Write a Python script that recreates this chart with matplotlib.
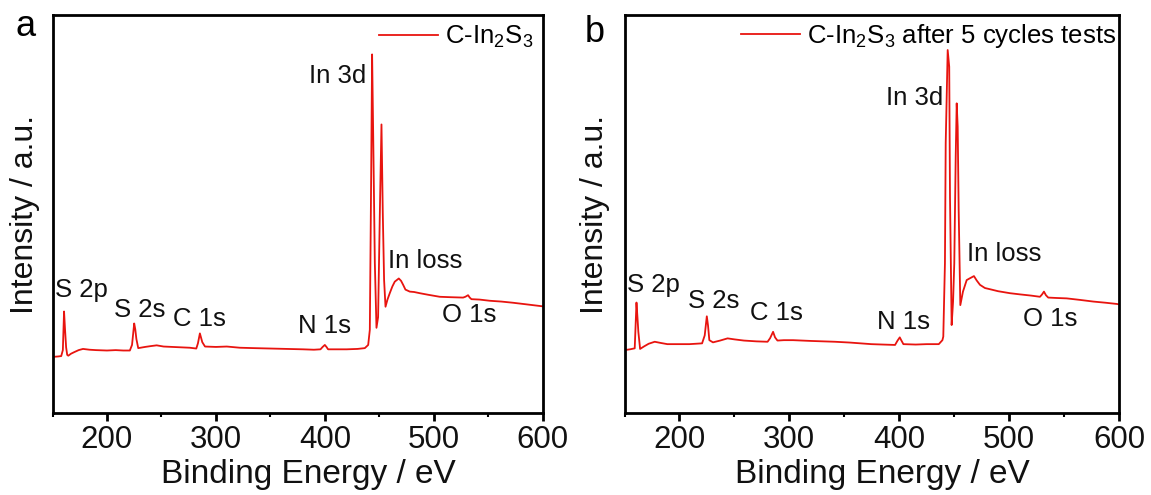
import numpy as np
import matplotlib
matplotlib.use("Agg")
import matplotlib.pyplot as plt
from matplotlib.ticker import MultipleLocator

plt.rcParams['font.family'] = ['Liberation Sans', 'DejaVu Sans']
plt.rcParams['mathtext.fontset'] = 'custom'
plt.rcParams['mathtext.rm'] = 'Liberation Sans'
plt.rcParams['mathtext.it'] = 'Liberation Sans'

# survey spectrum, panel a (binding energy eV, intensity a.u.)
ev_a = [150, 155, 158, 159.5, 160.6, 161.5, 162.5, 163.5, 164.5, 167, 170, 174, 178, 184,
        190, 200, 208, 215, 221, 223, 225, 226, 227, 228.7, 235, 240, 245.6, 252, 260,
        268, 276, 282, 283.5, 285.3, 287.5, 290, 300, 310, 322, 335, 350, 365, 380, 390,
        396, 398, 400, 401.5, 403, 412, 420, 430, 436.7, 439.8, 441.3, 442.5, 443.4,
        444.3, 445.9, 447.4, 448.9, 450.5, 452.0, 453.2, 454.4, 455.7, 457.5, 459.6, 462,
        464.2, 467.9, 470, 471.9, 474, 478, 482, 487.2, 495, 505.5, 515, 526.9, 529,
        531.5, 533, 534.6, 542, 551.4, 562, 572.8, 585, 600]
int_a = [14.1, 14.2, 14.3, 15.8, 25.5, 21.0, 16.5, 14.6, 14.4, 14.9, 15.3, 15.8, 16.1, 15.9,
         15.8, 15.7, 15.8, 15.7, 15.7, 17.1, 22.5, 21.0, 18.6, 16.3, 16.6, 16.8, 17.0, 16.7, 16.6,
         16.5, 16.4, 16.2, 17.5, 20.0, 17.8, 16.7, 16.6, 16.7, 16.4, 16.3, 16.2, 16.1, 16.0, 15.9,
         16.0, 16.6, 17.1, 16.6, 16.0, 16.0, 16.0, 16.1, 16.3, 17.1, 20.9, 58.5, 90.1,
         71.9, 37.7, 21.4, 24.1, 50.3, 72.5, 50.3, 33.4, 26.7, 28.5, 30.1, 31.8,
         33.0, 33.8, 33.2, 32.2, 31.0, 30.5, 30.4, 30.1, 29.7, 29.2, 29.1, 29.0, 29.2,
         29.6, 29.0, 28.6, 28.5, 28.2, 28.0, 27.7, 27.3, 26.8]

# survey spectrum, panel b (after 5 cycles)
ev_b = [150, 155, 159.3, 160.9, 161.8, 162.6, 164.2, 167.6, 172, 177.5, 183, 189, 200, 209,
        215, 220.6, 223, 224.9, 226, 227.2, 230.5, 237, 243.8, 250, 258.7, 270, 280.2, 282.5,
        285.2, 287, 289.2, 295, 303.4, 320, 341.5, 355, 374.6, 385, 396.2, 398.5, 400.5, 402,
        403.8, 415, 425, 436, 439.3, 440.1, 441.6, 442.3, 444.1, 445.5, 446.2, 447.7, 449,
        450.1, 451.4, 452.3, 453.2, 454.1, 455.6, 458, 461.4, 464, 468.0, 470.5, 473.5, 478,
        482.6, 490, 500.8, 510, 520, 528.1, 530, 531.7, 533.5, 535.6, 543, 552.4, 565, 576.6,
        588, 597.9, 600]
int_b = [15.8, 16.0, 16.25, 27.75, 24.0, 20.4, 16.1, 16.7, 17.4, 17.9, 17.6, 17.3, 17.3, 17.3,
         17.4, 17.5, 19.5, 24.3, 22.0, 18.3, 17.75, 18.2, 18.75, 18.5, 18.2, 18.0, 17.9, 18.8,
         20.4, 19.0, 18.2, 18.3, 18.3, 18.1, 17.9, 17.7, 17.3, 17.2, 17.1, 18.2, 19.0, 18.2,
         17.3, 17.2, 17.3, 17.3, 18.3, 19.2, 37.6, 67.8, 91.2, 87.0, 54.3, 22.1, 28.0,
         37.6, 64.4, 77.8, 71.9, 51.0, 27.1, 30.5, 33.4, 33.8, 34.4, 33.3, 32.2, 31.4,
         31.1, 30.6, 30.1, 29.8, 29.5, 29.2, 29.8, 30.5, 29.6, 29.0, 28.9, 28.8, 28.4, 28.0,
         27.7, 27.4, 27.3]

peak_names = ['S 2p', 'S 2s', 'C 1s', 'N 1s', 'In 3d', 'In loss', 'O 1s']
legend_a = r'C-In$_\mathregular{2}$S$_\mathregular{3}$'
legend_b = r'C-In$_\mathregular{2}$S$_\mathregular{3}$ after 5 cycles tests'

# label anchors (left/baseline) per panel
pos_a = [(152.3, 29.1), (206.4, 24.2), (261, 21.9), (375.5, 20.0),
         (385.6, 82.9), (458.1, 36.4), (507.2, 22.8)]
pos_b = [(152.5, 30.4), (208, 26.3), (264.3, 23.4), (379.6, 21.2),
         (387.9, 77.5), (461.4, 38.3), (512.8, 21.9)]

red = '#e8140f'

fig = plt.figure(figsize=(11.51, 4.95), dpi=100)
ax1 = fig.add_axes([52.5 / 1151, 82 / 495, 490.2 / 1151, 398 / 495])
ax2 = fig.add_axes([624.5 / 1151, 82 / 495, 494.5 / 1151, 398 / 495])


def draw(ax, ev, inten, label, pos, panel, leg_anchor, ylab_x):
    ax.plot(ev, inten, color=red, lw=1.3, label=label)
    ax.set_xlim(150, 600)
    ax.set_ylim(0, 100)
    ax.set_yticks([])
    ax.xaxis.set_major_locator(MultipleLocator(100))
    ax.xaxis.set_minor_locator(MultipleLocator(50))
    ax.tick_params(axis='x', which='major', direction='out', length=6, width=2,
                   labelsize=22.5, pad=3, labelcolor='#111111')
    ax.tick_params(axis='x', which='minor', direction='out', length=3, width=1.5)
    for s in ax.spines.values():
        s.set_linewidth(2)
    ax.set_xlabel('Binding Energy / eV', fontsize=24, color='#111111')
    ax.xaxis.set_label_coords(0.522, -0.115)
    ax.set_ylabel('Intensity / a.u.', fontsize=23, color='#111111')
    ax.yaxis.set_label_coords(ylab_x, 0.5)
    for name, (x, y) in zip(peak_names, pos):
        ax.text(x, y, name, fontsize=18.5, ha='left', va='baseline', color='#111111')
    ax.legend(loc='upper right', bbox_to_anchor=leg_anchor, frameon=False, fontsize=18.5,
              handlelength=2.3, handletextpad=0.26, borderaxespad=0, borderpad=0)
    ax.text(panel[1], panel[2], panel[0], transform=fig.transFigure, fontsize=26,
            ha='left', va='baseline')


draw(ax1, ev_a, int_a, legend_a, pos_a, ('a', 15.5 / 1151, 1 - 36.5 / 495),
     (0.981, 0.977), -0.026)
draw(ax2, ev_b, int_b, legend_b, pos_b, ('b', 585 / 1151, 1 - 41.5 / 495),
     (0.994, 0.982), -0.029)

fig.savefig('out.png', dpi=100)
